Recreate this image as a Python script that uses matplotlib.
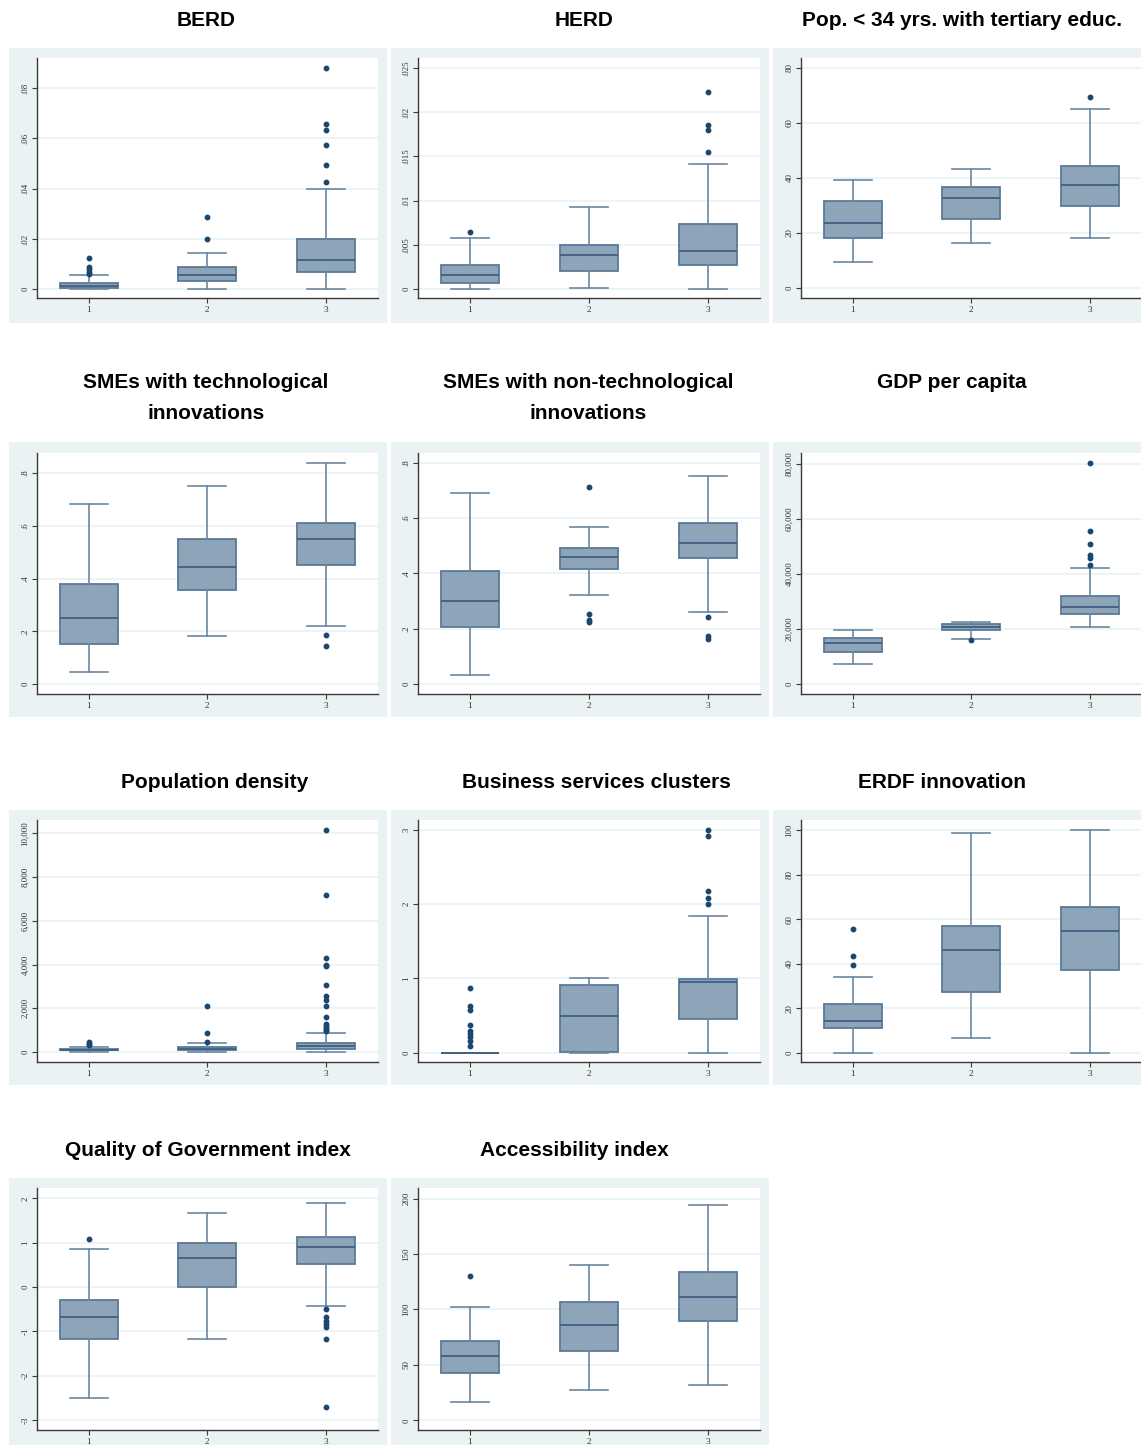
import matplotlib
matplotlib.use("Agg")
import matplotlib.pyplot as plt

# ---------------- data ----------------
groups = ["1", "2", "3"]

titles = ["BERD", "HERD", "Pop. < 34 yrs. with tertiary educ.",
          "SMEs with technological\ninnovations", "SMEs with non-technological\ninnovations",
          "GDP per capita", "Population density", "Business services clusters",
          "ERDF innovation", "Quality of Government index", "Accessibility index"]

berd_lo = [0.0, 0.0, 0.0]
berd_q1 = [0.0005, 0.0033, 0.0068]
berd_med = [0.0013, 0.0058, 0.0115]
berd_q3 = [0.0023, 0.0088, 0.0199]
berd_hi = [0.0055, 0.0146, 0.0398]
berd_out = [[0.006, 0.007, 0.008, 0.009, 0.0125], [0.0199, 0.0288],
            [0.0428, 0.0494, 0.0574, 0.0632, 0.0657, 0.0881]]

herd_lo = [0.0, 0.0001, 0.0]
herd_q1 = [0.00068, 0.00204, 0.00268]
herd_med = [0.00158, 0.00381, 0.0043]
herd_q3 = [0.00268, 0.00498, 0.00732]
herd_hi = [0.00573, 0.00928, 0.01414]
herd_out = [[0.00649], [], [0.01554, 0.01799, 0.01851, 0.02229]]

pop_lo = [9.5, 16.4, 18.3]
pop_q1 = [18.3, 25.1, 29.7]
pop_med = [23.5, 32.6, 37.4]
pop_q3 = [31.6, 36.8, 44.4]
pop_hi = [39.1, 43.3, 64.9]
pop_out = [[], [], [69.3]]

smet_lo = [0.044, 0.182, 0.221]
smet_q1 = [0.153, 0.355, 0.450]
smet_med = [0.251, 0.442, 0.550]
smet_q3 = [0.381, 0.550, 0.611]
smet_hi = [0.683, 0.750, 0.839]
smet_out = [[], [], [0.143, 0.184]]

smen_lo = [0.031, 0.321, 0.261]
smen_q1 = [0.2045, 0.414, 0.454]
smen_med = [0.301, 0.460, 0.510]
smen_q3 = [0.410, 0.490, 0.581]
smen_hi = [0.692, 0.569, 0.752]
smen_out = [[], [0.223, 0.231, 0.253, 0.713], [0.161, 0.173, 0.243]]

gdp_lo = [7130, 16193, 20785]
gdp_q1 = [11480, 19698, 25498]
gdp_med = [14864, 20665, 28036]
gdp_q3 = [16798, 21631, 31903]
gdp_hi = [19698, 22477, 42175]
gdp_out = [[], [15952], [43384, 45921, 47009, 50876, 55710, 80363]]

dens_lo = [10, 0, 0]
dens_q1 = [80, 76, 137]
dens_med = [100, 153, 275]
dens_q3 = [130, 214, 412]
dens_hi = [250, 397, 885]
dens_out = [[300, 380, 460], [473, 885, 2107],
            [962, 1023, 1099, 1206, 1298, 1603, 2122, 2366, 2550, 3053, 3924, 3969,
             4321, 7176, 10153]]

bus_lo = [0.0, 0.0, 0.0]
bus_q1 = [0.0, 0.01, 0.447]
bus_med = [0.0, 0.496, 0.952]
bus_q3 = [0.0, 0.911, 0.997]
bus_hi = [0.0, 1.0, 1.836]
bus_out = [[0.090, 0.153, 0.212, 0.253, 0.289, 0.374, 0.577, 0.632, 0.875], [],
           [1.998, 2.084, 2.174, 2.919, 3.0]]

erdf_lo = [0.0, 6.5, 0.0]
erdf_q1 = [11.0, 27.3, 37.0]
erdf_med = [14.2, 46.1, 54.8]
erdf_q3 = [21.8, 56.9, 65.5]
erdf_hi = [34.0, 98.8, 100.0]
erdf_out = [[39.6, 43.4, 55.7], [], []]

qog_lo = [-2.496, -1.178, -0.439]
qog_q1 = [-1.163, -0.01, 0.508]
qog_med = [-0.666, 0.644, 0.900]
qog_q3 = [-0.297, 0.997, 1.125]
qog_hi = [0.847, 1.660, 1.901]
qog_out = [[1.080], [], [-2.714, -1.17, -0.913, -0.845, -0.777, -0.672, -0.5]]

acc_lo = [16.9, 27.4, 31.6]
acc_q1 = [43.1, 62.3, 89.5]
acc_med = [58.1, 85.8, 111.4]
acc_q3 = [71.7, 106.9, 133.4]
acc_hi = [102.1, 140.1, 194.0]
acc_out = [[130.4], [], []]

yticks = [[0, .02, .04, .06, .08], [0, .005, .01, .015, .02, .025], [0, 20, 40, 60, 80],
          [0, .2, .4, .6, .8], [0, .2, .4, .6, .8], [0, 20000, 40000, 60000, 80000],
          [0, 2000, 4000, 6000, 8000, 10000], [0, 1, 2, 3], [0, 20, 40, 60, 80, 100],
          [-3, -2, -1, 0, 1, 2], [0, 50, 100, 150, 200]]
ytick_labels = [["0", ".02", ".04", ".06", ".08"],
                ["0", ".005", ".01", ".015", ".02", ".025"],
                ["0", "20", "40", "60", "80"],
                ["0", ".2", ".4", ".6", ".8"],
                ["0", ".2", ".4", ".6", ".8"],
                ["0", "20,000", "40,000", "60,000", "80,000"],
                ["0", "2,000", "4,000", "6,000", "8,000", "10,000"],
                ["0", "1", "2", "3"],
                ["0", "20", "40", "60", "80", "100"],
                ["-3", "-2", "-1", "0", "1", "2"],
                ["0", "50", "100", "150", "200"]]

panels = [
    (berd_lo, berd_q1, berd_med, berd_q3, berd_hi, berd_out),
    (herd_lo, herd_q1, herd_med, herd_q3, herd_hi, herd_out),
    (pop_lo, pop_q1, pop_med, pop_q3, pop_hi, pop_out),
    (smet_lo, smet_q1, smet_med, smet_q3, smet_hi, smet_out),
    (smen_lo, smen_q1, smen_med, smen_q3, smen_hi, smen_out),
    (gdp_lo, gdp_q1, gdp_med, gdp_q3, gdp_hi, gdp_out),
    (dens_lo, dens_q1, dens_med, dens_q3, dens_hi, dens_out),
    (bus_lo, bus_q1, bus_med, bus_q3, bus_hi, bus_out),
    (erdf_lo, erdf_q1, erdf_med, erdf_q3, erdf_hi, erdf_out),
    (qog_lo, qog_q1, qog_med, qog_q3, qog_hi, qog_out),
    (acc_lo, acc_q1, acc_med, acc_q3, acc_hi, acc_out),
]

# ---------------- layout (pixels) ----------------
W, H = 1141, 1445
ylims = [(-0.0035, 0.092), (-0.00102, 0.02613), (-3.6, 83.6), (-0.038, 0.876),
         (-0.036, 0.835), (-3625, 83867), (-458, 10611), (-0.126, 3.135),
         (-4.2, 104.7), (-3.226, 2.233), (-8.7, 209.6)]

outer_cols = [(9, 387), (391, 769), (773, 1141)]
inner_cols = [(37, 378), (418, 760), (801, 1142)]
outer_rows = [(48, 323), (442, 717), (810, 1085), (1178, 1445)]
inner_rows = [(58, 298), (453, 694), (820, 1062), (1188, 1430)]
title_pos = [(206, 20), (584, 20), (962, 20),
             (206, 398), (588, 398), (952, 382),
             (215, 782), (596, 782), (942, 782),
             (208, 1150), (574, 1150)]

BG = "#eaf2f3"
FILL = "#8ea4b9"
EDGE = "#5b7997"
MED = "#3f5f82"
WHISK = "#6a87a4"
DOT = "#1a476f"

fig = plt.figure(figsize=(W / 100, H / 100), dpi=100)
fig.patch.set_facecolor("white")

for i, (lo, q1, med, q3, hi, out) in enumerate(panels):
    r, c = divmod(i, 3)
    ox0, ox1 = outer_cols[c]
    oy0, oy1 = outer_rows[r]
    bgax = fig.add_axes([ox0 / W, 1 - oy1 / H, (ox1 - ox0) / W, (oy1 - oy0) / H], zorder=-5)
    bgax.set_facecolor(BG)
    bgax.set_xticks([])
    bgax.set_yticks([])
    for s in bgax.spines.values():
        s.set_visible(False)

    ix0, ix1 = inner_cols[c]
    iy0, iy1 = inner_rows[r]
    ax = fig.add_axes([ix0 / W, 1 - iy1 / H, (ix1 - ix0) / W, (iy1 - iy0) / H], zorder=1)
    ax.set_facecolor("white")
    stats = []
    for g in range(3):
        stats.append(dict(med=med[g], q1=q1[g], q3=q3[g], whislo=lo[g], whishi=hi[g],
                          fliers=out[g], label=groups[g]))
    ax.bxp(stats, positions=[1, 2, 3], widths=0.49, patch_artist=True,
           showfliers=True, capwidths=0.32,
           boxprops=dict(facecolor=FILL, edgecolor=EDGE, linewidth=1.3),
           medianprops=dict(color=MED, linewidth=1.3),
           whiskerprops=dict(color=WHISK, linewidth=1.2),
           capprops=dict(color=WHISK, linewidth=1.2),
           flierprops=dict(marker="o", markerfacecolor=DOT, markeredgecolor=DOT,
                           markersize=3.2, linestyle="none"),
           zorder=3)
    ax.set_xlim(0.565, 3.44)
    ax.set_ylim(*ylims[i])
    ax.set_yticks(yticks[i])
    ax.set_yticklabels(ytick_labels[i], rotation=90, va="center",
                       family="Liberation Serif", fontsize=6.4, color="#333333")
    ax.set_xticks([1, 2, 3])
    ax.set_xticklabels(groups, family="Liberation Serif", fontsize=6.7, color="#333333")
    ax.grid(axis="y", color="#eaf2f3", linewidth=1.2, zorder=0)
    ax.set_axisbelow(True)
    for s in ["top", "right"]:
        ax.spines[s].set_visible(False)
    for s in ["left", "bottom"]:
        ax.spines[s].set_color("#3a3a3a")
        ax.spines[s].set_linewidth(1.0)
    ax.tick_params(axis="both", direction="out", length=3.5, width=0.8, color="#3a3a3a",
                   pad=2)

    tx, ty = title_pos[i]
    fig.text(tx / W, 1 - ty / H, titles[i], ha="center", va="center",
             family="Liberation Sans", fontweight="bold", fontsize=15,
             linespacing=1.8, color="black")

fig.savefig("out.png", dpi=100, facecolor="white")
